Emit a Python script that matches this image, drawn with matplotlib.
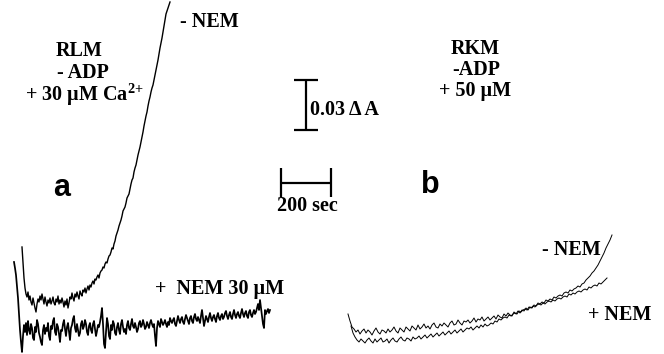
import numpy as np
import matplotlib
matplotlib.use("Agg")
import matplotlib.pyplot as plt

plt.rcParams['mathtext.fontset'] = 'custom'
plt.rcParams['mathtext.rm'] = 'Liberation Serif:bold'
plt.rcParams['mathtext.default'] = 'rm'

# recorder units: 1 division = 0.6 mA (0.03 dA = 50 div); time in seconds
DIV_TO_MA = 0.6

# panel a (RLM), sampled every 4 s
a_dt = 4
a_minus_t0 = 88
a_minus_nem = [107, 92, 76, 66, 60, 57, 62, 54, 58, 52,
               49, 56, 51, 46, 42, 50, 55, 52, 58, 54,
               60, 55, 50, 57, 52, 48, 54, 51, 56, 50,
               53, 57, 51, 49, 55, 52, 58, 50, 54, 51,
               56, 52, 47, 53, 49, 55, 46, 51, 57, 55,
               61, 56, 53, 60, 57, 62, 58, 55, 63, 60,
               58, 64, 62, 66, 61, 65, 68, 64, 69, 67,
               71, 73, 70, 75, 74, 77, 79, 76, 81, 83,
               84, 87, 86, 90, 92, 91, 95, 98, 99, 102,
               106, 105, 110, 113, 118, 121, 124, 128, 131, 134,
               138, 143, 145, 147, 151, 156, 158, 160, 165, 170,
               174, 176, 182, 186, 189, 194, 199, 203, 207, 212,
               217, 222, 228, 233, 238, 242, 248, 253, 257, 262,
               266, 269, 274, 279, 284, 289, 294, 300, 306, 311,
               316, 322, 328, 334, 340, 343, 346, 349, 352]
a_plus_t0 = 56
a_plus_nem = [92, 86, 79, 68, 56, 40, 24, 12, 2,
              18, 29, 22, 31, 19, 33, 24, 20, 30, 26,
              16, 14, 27, 22, 34, 30, 21, 17, 12, 9,
              24, 29, 20, 26, 23, 31, 18, 14, 28, 25,
              33, 36, 22, 19, 30, 27, 20, 12, 24, 23,
              30, 34, 25, 18, 27, 31, 22, 14, 26, 29,
              35, 38, 26, 22, 30, 24, 18, 21, 30, 33,
              25, 28, 34, 30, 22, 19, 28, 31, 24, 21,
              30, 33, 25, 18, 23, 29, 27, 32, 38, 46,
              30, 10, 6, 22, 36, 30, 18, 15, 29, 24,
              33, 30, 21, 19, 27, 31, 24, 20, 30, 34,
              27, 22, 25, 20, 29, 33, 26, 24, 30, 35,
              28, 26, 31, 27, 22, 25, 31, 33, 27, 29,
              34, 30, 25, 27, 32, 29, 26, 31, 34, 30,
              27, 30, 18, 8, 26, 33, 30, 27, 35, 32,
              29, 31, 34, 30, 27, 32, 29, 36, 33, 31,
              34, 36, 30, 28, 33, 38, 34, 31, 35, 37,
              32, 30, 35, 39, 36, 33, 30, 36, 38, 33,
              31, 37, 40, 35, 33, 37, 34, 31, 38, 44,
              36, 28, 33, 38, 35, 32, 37, 41, 36, 33,
              37, 39, 35, 32, 38, 41, 36, 34, 38, 40,
              35, 37, 41, 43, 38, 35, 39, 42, 37, 35,
              40, 44, 39, 36, 40, 42, 38, 36, 41, 45,
              40, 37, 41, 43, 38, 36, 42, 44, 39, 37,
              41, 44, 40, 42, 46, 50, 44, 54, 46, 38,
              30, 26, 44, 40, 43, 45, 41, 44]

# panel b (RKM), sampled every 8 s
b_dt = 8
b_minus_t0 = 1392
b_minus_nem = [40, 33, 27, 25, 22, 24, 20, 23, 25, 21,
               24, 22, 19, 23, 26, 22, 20, 24, 23, 21,
               25, 22, 24, 27, 23, 21, 26, 24, 22, 27,
               25, 23, 28, 26, 24, 29, 25, 27, 30, 26,
               28, 25, 29, 31, 27, 26, 30, 28, 31, 29,
               27, 31, 33, 29, 30, 34, 31, 29, 33, 32,
               34, 31, 33, 36, 32, 35, 34, 37, 33, 35,
               37, 34, 36, 38, 35, 39, 37, 36, 40, 38,
               41, 39, 38, 42, 40, 43, 41, 44, 43, 46,
               44, 47, 46, 49, 48, 51, 50, 52, 51, 54,
               53, 55, 54, 57, 56, 58, 59, 58, 61, 62,
               61, 64, 63, 65, 66, 68, 67, 70, 71, 74,
               76, 78, 81, 83, 86, 89, 93, 97, 101, 106,
               110, 114, 119]
b_plus_t0 = 1404
b_plus_nem = [28, 21, 17, 14, 12, 15, 13, 11, 14, 16,
              13, 11, 15, 12, 14, 16, 12, 13, 15, 11,
              14, 16, 13, 12, 15, 17, 14, 13, 16, 15,
              13, 17, 15, 16, 18, 15, 17, 19, 16, 18,
              20, 17, 19, 21, 18, 20, 22, 19, 21, 23,
              20, 22, 24, 21, 23, 25, 22, 24, 26, 25,
              27, 24, 26, 28, 26, 29, 27, 30, 28, 29,
              31, 30, 33, 32, 35, 34, 36, 37, 36, 39,
              38, 40, 41, 40, 43, 42, 44, 45, 44, 47,
              46, 48, 47, 49, 50, 49, 51, 50, 52, 53,
              52, 54, 53, 55, 56, 55, 57, 58, 57, 60,
              59, 61, 60, 62, 63, 62, 64, 65, 64, 67,
              66, 68, 69, 68, 71, 70, 72, 74, 76]


def trace(t0, dt, vals):
    v = np.asarray(vals, dtype=float) * DIV_TO_MA
    t = t0 + dt * np.arange(len(v))
    return t, v


W, H = 664, 354
fig = plt.figure(figsize=(W / 100, H / 100), dpi=100)
ax = fig.add_axes([0, 0, 1, 1])
ax.set_xlim(0, W * 4)
ax.set_ylim(0, H * DIV_TO_MA)
ax.axis('off')

for t0, dt, vals, lw in [(a_minus_t0, a_dt, a_minus_nem, 1.0),
                         (a_plus_t0, a_dt, a_plus_nem, 1.25),
                         (b_minus_t0, b_dt, b_minus_nem, 0.7),
                         (b_plus_t0, b_dt, b_plus_nem, 0.7)]:
    t, v = trace(t0, dt, vals)
    ax.plot(t, v, color='black', lw=lw)

# scale bars
bk = dict(color='black', lw=1.6, solid_capstyle='butt')
ax.plot([1224, 1224], [134.4, 164.4], **bk)
ax.plot([1176, 1272], [164.4, 164.4], **bk)
ax.plot([1176, 1272], [134.4, 134.4], **bk)
ax.plot([1124, 1324], [102.6, 102.6], **bk)
ax.plot([1124, 1124], [94.2, 111.6], **bk)
ax.plot([1324, 1324], [94.2, 111.6], **bk)

serif = dict(family='Liberation Serif', fontweight='bold', fontsize=14.5, color='black')
sans = dict(family='Liberation Sans', fontweight='bold', fontsize=22, color='black')


def t(x, y, s, ha='center', **kw):
    fig.text(x / W, 1 - y / H, s, ha=ha, va='center', **kw)


t(180, 22, '- NEM', ha='left', **serif)
t(79, 51, 'RLM', **serif)
t(83, 73, '- ADP', **serif)
t(84, 95, '+ 30 µM Ca$^{2{+}}$', **serif)
t(62, 188, 'a', **sans)
t(155, 289, '+  NEM 30 µM', ha='left', **serif)
t(310, 110, '0.03 Δ A', ha='left', **serif)
t(307, 206, '200 sec', **serif)
t(475, 49, 'RKM', **serif)
t(476, 70, '-ADP', **serif)
t(475, 91, '+ 50 µM', **serif)
t(430, 185, 'b', **sans)
t(542, 250, '- NEM', ha='left', **serif)
t(588, 315, '+ NEM', ha='left', **serif)

fig.savefig('out.png', dpi=100, facecolor='white')
